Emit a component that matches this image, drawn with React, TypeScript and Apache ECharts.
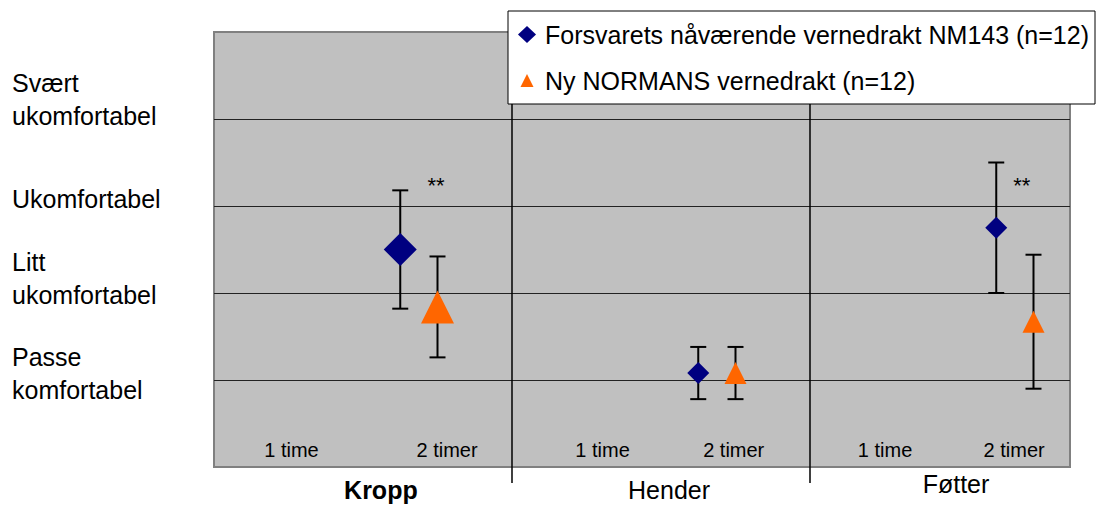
import React, { useEffect, useRef } from "react";
import * as echarts from "echarts";

// Comfort ratings (0 = bottom of scale) for the two protective suits
const groups = ["Kropp", "Hender", "Føtter"];
const timeLabels = ["1 time", "2 timer"];
const seriesNames = [
  "Forsvarets nåværende vernedrakt NM143 (n=12)",
  "Ny NORMANS vernedrakt (n=12)",
];
const nm143Mean = [2.5, 1.08, 2.75];
const nm143Sd = [0.68, 0.3, 0.75];
const normansMean = [1.84, 1.08, 1.67];
const normansSd = [0.58, 0.3, 0.77];
const significance = ["**", "", "**"];
const comfortLevels = [
  "Passe\nkomfortabel",
  "Litt\nukomfortabel",
  "Ukomfortabel",
  "Svært\nukomfortabel",
];

// Layout (axis units: one unit per body region on x, one scale step on y)
const X_MAX = 2.8725;
const Y_MAX = 5;
const NM143_OFFSET = 0.625;
const NORMANS_OFFSET = 0.75;
const comfortLabelAnchors = [1.08, 2.17, 3.08, 4.22];
const subLabelOffsets = [
  [0.26, 0.782],
  [0.304, 0.744],
  [0.252, 0.685],
];
const SUB_LABEL_Y = 0.19;
const groupLabelX = [0.56, 1.527, 2.49];
const groupLabelY = [-0.268, -0.262, -0.199];
const sigOffsets = [0.745, 0, 0.711];
const SIG_Y = 3.24;
const markerSizes = [33, 22, 22];

const FONT = '"Liberation Sans", Arial, Helvetica, sans-serif';
const NAVY = "#000080";
const ORANGE = "#FF6600";

type Annotation = {
  value: number[];
  text: string;
  fontSize: number;
  fontWeight: string;
};

export default function App() {
  const ref = useRef<HTMLDivElement>(null);

  useEffect(() => {
    if (!ref.current) return;
    const chart = echarts.init(ref.current, undefined, { renderer: "svg" });

    const labelByValue: Record<string, string> = {};
    comfortLabelAnchors.forEach((v, i) => {
      labelByValue[String(v)] = comfortLevels[i];
    });

    const nm143Points = groups.map((_, i) => ({
      value: [i + NM143_OFFSET, nm143Mean[i]],
      symbolSize: markerSizes[i],
    }));
    const normansPoints = groups.map((_, i) => ({
      value: [i + NORMANS_OFFSET, normansMean[i]],
      symbolSize: markerSizes[i],
    }));
    const errorBars = [
      ...groups.map((_, i) => [
        i + NM143_OFFSET,
        nm143Mean[i] - nm143Sd[i],
        nm143Mean[i] + nm143Sd[i],
      ]),
      ...groups.map((_, i) => [
        i + NORMANS_OFFSET,
        normansMean[i] - normansSd[i],
        normansMean[i] + normansSd[i],
      ]),
    ];

    const annotations: Annotation[] = [
      ...groups.flatMap((_, gi) =>
        timeLabels.map((t, ti) => ({
          value: [gi + subLabelOffsets[gi][ti], SUB_LABEL_Y],
          text: t,
          fontSize: 20,
          fontWeight: "normal",
        }))
      ),
      ...groups.map((g, gi) => ({
        value: [groupLabelX[gi], groupLabelY[gi]],
        text: g,
        fontSize: 25,
        fontWeight: gi === 0 ? "bold" : "normal",
      })),
      ...significance
        .map((s, gi) => ({
          value: [gi + sigOffsets[gi], SIG_Y],
          text: s,
          fontSize: 22,
          fontWeight: "normal",
        }))
        .filter((a) => a.text !== ""),
    ];

    const separators = groups.slice(1).map((_, i) => [i + 1, 0]);

    chart.setOption({
      animation: false,
      grid: {
        left: 214,
        top: 32,
        right: 26,
        bottom: 39,
        show: true,
        backgroundColor: "#C0C0C0",
        borderColor: "#808080",
        borderWidth: 2,
        outerBoundsMode: "none",
      },
      xAxis: {
        type: "value",
        min: 0,
        max: X_MAX,
        show: false,
      },
      yAxis: {
        type: "value",
        min: 0,
        max: Y_MAX,
        interval: 1,
        axisLine: { show: false },
        axisTick: { show: false },
        splitLine: {
          show: true,
          showMinLine: false,
          showMaxLine: false,
          lineStyle: { color: "#222", width: 1 },
        },
        axisLabel: {
          customValues: comfortLabelAnchors,
          formatter: (v: number) => labelByValue[String(v)] ?? "",
          align: "left",
          margin: 202,
          fontSize: 25,
          lineHeight: 33,
          color: "#000",
          fontFamily: FONT,
        },
      },
      legend: {
        data: [
          { name: seriesNames[0], icon: "diamond" },
          {
            name: seriesNames[1],
            icon: "path://M0,0 L0,0 M9,2 L15.5,15 L2.5,15 Z M18,17 L18,17",
          },
        ],
        orient: "vertical",
        left: 508,
        top: 11,
        padding: [7, 6, 7, 10],
        itemGap: 13,
        itemWidth: 18,
        itemHeight: 17,
        backgroundColor: "#fff",
        borderColor: "#000",
        borderWidth: 1,
        borderRadius: 0,
        selectedMode: false,
        textStyle: {
          fontSize: 25,
          lineHeight: 25,
          color: "#000",
          fontFamily: FONT,
          padding: [0, 0, 8, 4],
        },
      },
      series: [
        {
          type: "custom",
          name: "separators",
          silent: true,
          z: 2,
          clip: false,
          data: separators,
          encode: { x: 0, y: 1 },
          renderItem: (_params: any, api: any) => {
            const x = api.value(0);
            const top = api.coord([x, Y_MAX]);
            const bottom = api.coord([x, 0]);
            return {
              type: "line",
              shape: { x1: top[0], y1: top[1], x2: bottom[0], y2: bottom[1] + 16 },
              style: { stroke: "#000", lineWidth: 1.5 },
            };
          },
        },
        {
          type: "custom",
          name: "errorbars",
          silent: true,
          z: 2,
          data: errorBars,
          encode: { x: 0, y: [1, 2] },
          renderItem: (_params: any, api: any) => {
            const x = api.value(0);
            const lo = api.coord([x, api.value(1)]);
            const hi = api.coord([x, api.value(2)]);
            const half = 8;
            const style = { stroke: "#000", lineWidth: 2 };
            return {
              type: "group",
              children: [
                { type: "line", shape: { x1: hi[0], y1: hi[1], x2: lo[0], y2: lo[1] }, style },
                { type: "line", shape: { x1: hi[0] - half, y1: hi[1], x2: hi[0] + half, y2: hi[1] }, style },
                { type: "line", shape: { x1: lo[0] - half, y1: lo[1], x2: lo[0] + half, y2: lo[1] }, style },
              ],
            };
          },
        },
        {
          type: "scatter",
          name: seriesNames[0],
          symbol: "diamond",
          z: 3,
          itemStyle: { color: NAVY, opacity: 1 },
          data: nm143Points,
        },
        {
          type: "scatter",
          name: seriesNames[1],
          symbol: "triangle",
          z: 3,
          itemStyle: { color: ORANGE, opacity: 1 },
          data: normansPoints,
        },
        {
          type: "custom",
          name: "annotations",
          silent: true,
          z: 2,
          clip: false,
          data: annotations.map((a) => a.value),
          encode: { x: 0, y: 1 },
          renderItem: (params: any, api: any) => {
            const a = annotations[params.dataIndex];
            const p = api.coord(a.value);
            return {
              type: "text",
              x: p[0],
              y: p[1],
              style: {
                text: a.text,
                fill: "#000",
                fontSize: a.fontSize,
                fontWeight: a.fontWeight,
                fontFamily: FONT,
                align: "center",
                verticalAlign: "middle",
              },
            };
          },
        },
      ],
    });

    return () => chart.dispose();
  }, []);

  return (
    <div
      ref={ref}
      style={{ position: "absolute", left: 0, top: 0, width: 1096, height: 506 }}
    />
  );
}
